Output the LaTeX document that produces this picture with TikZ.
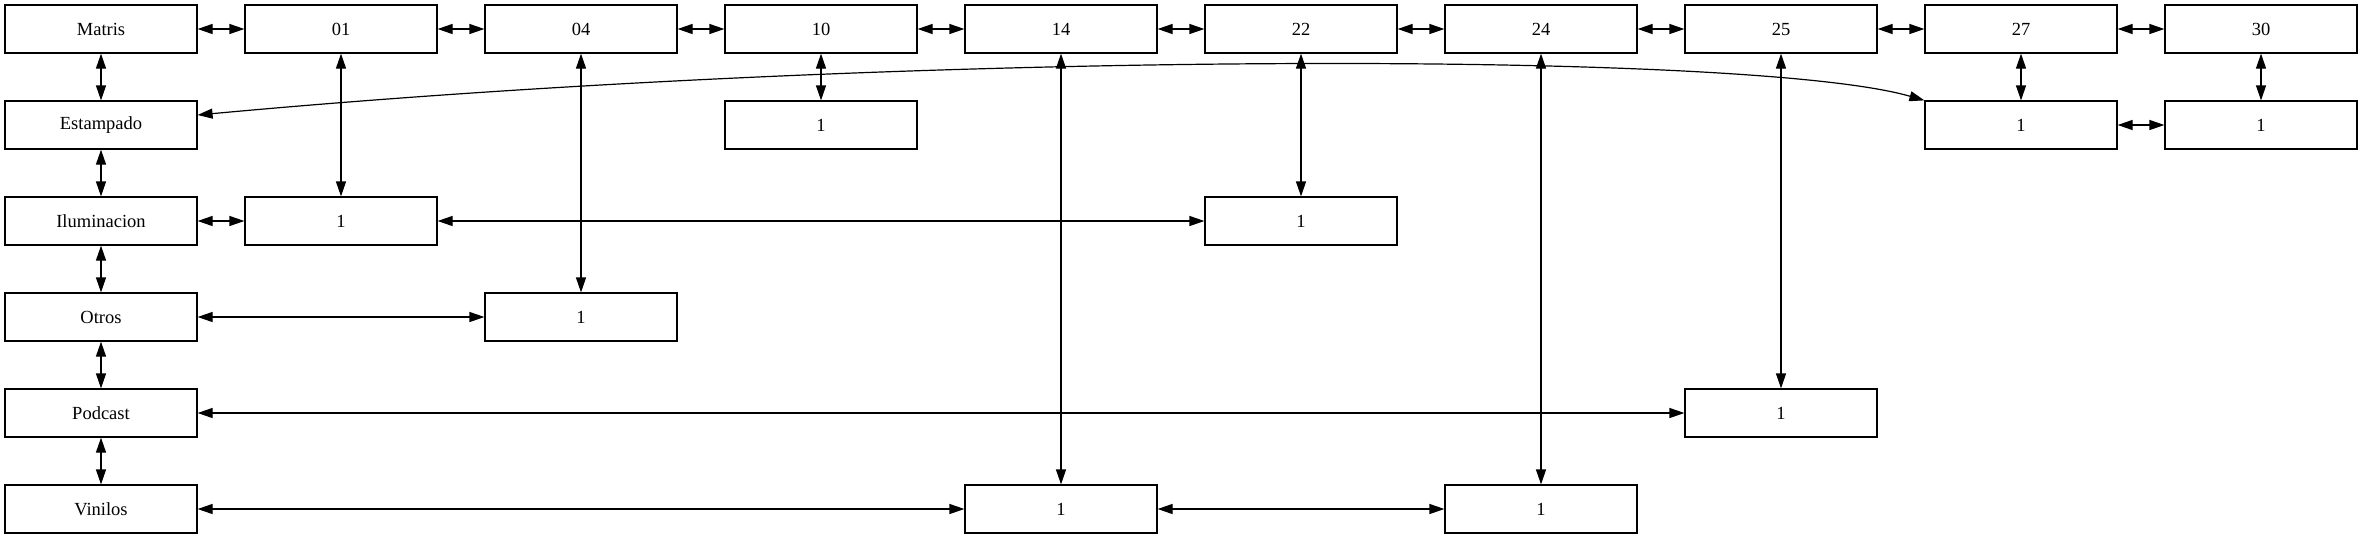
\documentclass[tikz,border=0pt]{standalone}
\usepackage{fontspec}
\setmainfont{Liberation Serif}
\usetikzlibrary{arrows.meta}
\begin{document}
\begin{tikzpicture}[x=1pt,y=1pt,
  box/.style={draw,line width=1.2pt,rectangle,minimum width=192pt,minimum height=48pt,inner sep=0pt,font=\fontsize{18.5}{22}\selectfont},
  link/.style={line width=1.2pt,{Triangle[length=15pt,width=10pt]}-{Triangle[length=15pt,width=10pt]}}]
\useasboundingbox (0,0) rectangle (2363,-539);
% top row
\node[box] (matris) at (101,-29) {Matris};
\node[box] (c01) at (341,-29) {01};
\node[box] (c04) at (581,-29) {04};
\node[box] (c10) at (821,-29) {10};
\node[box] (c14) at (1061,-29) {14};
\node[box] (c22) at (1301,-29) {22};
\node[box] (c24) at (1541,-29) {24};
\node[box] (c25) at (1781,-29) {25};
\node[box] (c27) at (2021,-29) {27};
\node[box] (c30) at (2261,-29) {30};
% left column
\node[box] (est) at (101,-125) {Estampado};
\node[box] (ilu) at (101,-221) {Iluminacion};
\node[box] (otr) at (101,-317) {Otros};
\node[box] (pod) at (101,-413) {Podcast};
\node[box] (vin) at (101,-509) {Vinilos};
% cells
\node[box] (n10) at (821,-125) {1};
\node[box] (n27) at (2021,-125) {1};
\node[box] (n30) at (2261,-125) {1};
\node[box] (n01) at (341,-221) {1};
\node[box] (n22) at (1301,-221) {1};
\node[box] (n04) at (581,-317) {1};
\node[box] (n25) at (1781,-413) {1};
\node[box] (n14) at (1061,-509) {1};
\node[box] (n24) at (1541,-509) {1};
% top row links
\draw[link] (matris) -- (c01);
\draw[link] (c01) -- (c04);
\draw[link] (c04) -- (c10);
\draw[link] (c10) -- (c14);
\draw[link] (c14) -- (c22);
\draw[link] (c22) -- (c24);
\draw[link] (c24) -- (c25);
\draw[link] (c25) -- (c27);
\draw[link] (c27) -- (c30);
% left column links
\draw[link] (matris) -- (est);
\draw[link] (est) -- (ilu);
\draw[link] (ilu) -- (otr);
\draw[link] (otr) -- (pod);
\draw[link] (pod) -- (vin);
% vertical links
\draw[link] (c01) -- (n01);
\draw[link] (c04) -- (n04);
\draw[link] (c10) -- (n10);
\draw[link] (c14) -- (n14);
\draw[link] (c22) -- (n22);
\draw[link] (c24) -- (n24);
\draw[link] (c25) -- (n25);
\draw[link] (c27) -- (n27);
\draw[link] (c30) -- (n30);
% horizontal links
\draw[link] (ilu) -- (n01);
\draw[link] (n01) -- (n22);
\draw[link] (otr) -- (n04);
\draw[link] (pod) -- (n25);
\draw[link] (vin) -- (n14);
\draw[link] (n14) -- (n24);
\draw[link] (n27) -- (n30);
% curved link
\draw[link] ([yshift=10pt]est.east) .. controls (900,-50) and (1750,-50) .. (n27.north west);
\end{tikzpicture}
\end{document}
